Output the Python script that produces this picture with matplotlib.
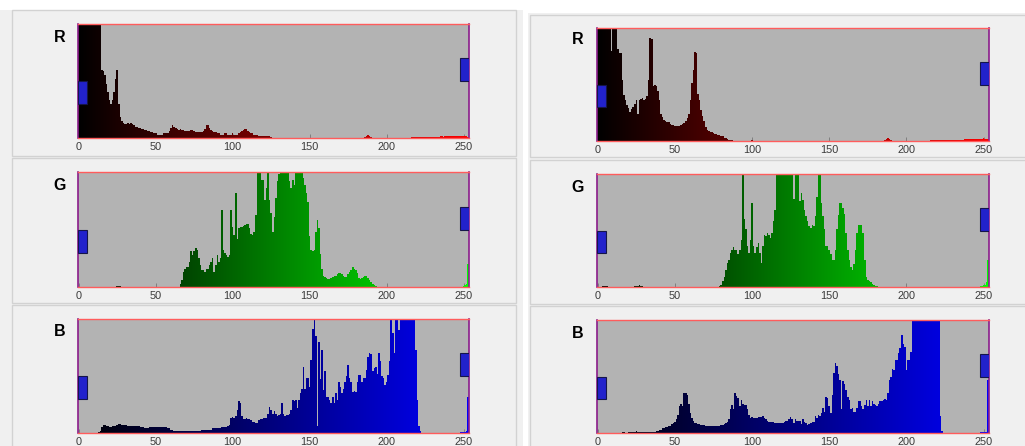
import matplotlib
matplotlib.use("Agg")
import matplotlib.pyplot as plt
import matplotlib.transforms as mtransforms
from matplotlib.patches import Rectangle
import numpy as np

# --- histogram heights, % of the axis height (values > 100 are off-scale) ---
left_r = [
    120, 120, 120, 120, 120, 120, 120, 120, 120, 120, 120, 120, 120, 120, 120, 60,
    59, 55, 47, 40, 33, 30, 33, 40, 52, 60, 30, 18, 15, 13, 12, 12,
    13, 12, 13, 12, 11, 10, 10, 9, 9, 8, 8, 7, 7, 6, 6, 5,
    5, 4, 4, 3, 3, 3, 3, 4, 4, 4, 4, 6, 9, 11, 10, 9,
    8, 7, 8, 7, 7, 6, 6, 6, 6, 7, 7, 6, 5, 5, 5, 5,
    5, 6, 8, 11, 11, 9, 7, 6, 5, 5, 4, 4, 3, 3, 3, 4,
    4, 3, 3, 3, 4, 3, 3, 3, 4, 5, 6, 7, 8, 8, 6, 5,
    4, 4, 3, 3, 3, 2, 2, 2, 2, 2, 2, 2, 2, 1, 0, 0,
    0, 0, 0, 0, 0, 0, 0, 0, 0, 0, 0, 0, 0, 0, 0, 0,
    0, 0, 0, 0, 0, 0, 0, 0, 0, 0, 0, 0, 0, 0, 0, 0,
    0, 0, 0, 0, 0, 0, 0, 0, 0, 0, 0, 0, 0, 0, 0, 0,
    0, 0, 0, 0, 0, 0, 0, 0, 0, 0, 1, 2, 3, 2, 1, 0,
    0, 0, 0, 0, 0, 0, 0, 0, 0, 0, 0, 0, 0, 0, 0, 0,
    0, 0, 0, 0, 0, 0, 0, 0, 1, 1, 1, 1, 1, 1, 1, 1,
    1, 1, 1, 1, 1, 1, 1, 1, 1, 1, 1, 2, 2, 1, 2, 2,
    2, 2, 2, 2, 2, 2, 2, 2, 2, 2, 2, 2, 2, 1, 1, 1,
]
left_g = [
    0, 0, 0, 0, 0, 0, 0, 0, 0, 0, 0, 0, 0, 0, 0, 0,
    0, 0, 0, 0, 0, 0, 0, 0, 0, 1, 1, 1, 0, 0, 0, 0,
    0, 0, 0, 0, 0, 0, 0, 0, 0, 0, 0, 0, 0, 0, 0, 0,
    0, 0, 0, 0, 0, 0, 0, 0, 0, 0, 0, 0, 0, 0, 0, 0,
    0, 0, 3, 6, 13, 16, 17, 17, 22, 31, 28, 31, 34, 32, 25, 19,
    15, 15, 13, 16, 16, 19, 22, 25, 13, 19, 28, 22, 25, 67, 32, 30,
    28, 26, 28, 67, 52, 45, 82, 42, 51, 52, 52, 53, 54, 55, 55, 51,
    46, 45, 48, 63, 120, 120, 100, 93, 93, 76, 86, 120, 76, 64, 48, 61,
    77, 92, 98, 120, 120, 120, 120, 120, 120, 92, 86, 93, 89, 120, 120, 120,
    120, 120, 95, 89, 82, 74, 44, 32, 31, 32, 48, 58, 51, 29, 16, 10,
    9, 8, 7, 7, 8, 9, 10, 10, 11, 12, 12, 11, 10, 9, 9, 11,
    13, 15, 17, 16, 15, 12, 8, 7, 8, 9, 10, 10, 8, 6, 4, 3,
    2, 1, 0, 0, 0, 0, 0, 0, 0, 0, 0, 0, 0, 0, 0, 0,
    0, 0, 0, 0, 0, 0, 0, 0, 0, 0, 0, 0, 0, 0, 0, 0,
    0, 0, 0, 0, 0, 0, 0, 0, 0, 0, 0, 0, 0, 0, 0, 0,
    0, 0, 0, 0, 0, 0, 0, 0, 0, 0, 1, 2, 3, 20, 20, 20,
]
left_b = [
    0, 0, 0, 0, 0, 0, 0, 0, 0, 0, 0, 0, 0, 1, 2, 5,
    7, 7, 6, 6, 5, 5, 6, 6, 6, 7, 8, 8, 7, 7, 7, 7,
    6, 6, 6, 6, 6, 6, 6, 6, 5, 5, 5, 4, 4, 4, 5, 5,
    5, 5, 5, 5, 5, 5, 5, 5, 5, 5, 4, 4, 3, 3, 2, 2,
    2, 2, 2, 2, 2, 2, 2, 2, 2, 2, 2, 2, 2, 2, 2, 2,
    3, 3, 3, 3, 3, 3, 3, 4, 4, 4, 4, 4, 4, 5, 5, 5,
    5, 6, 7, 13, 14, 13, 15, 20, 28, 26, 15, 12, 12, 13, 12, 12,
    11, 10, 10, 9, 9, 11, 12, 12, 13, 13, 13, 17, 23, 20, 17, 19,
    17, 15, 16, 17, 26, 17, 15, 16, 16, 17, 20, 29, 28, 29, 22, 29,
    35, 39, 58, 39, 48, 48, 40, 64, 91, 120, 85, 6, 80, 47, 73, 38,
    54, 32, 32, 29, 26, 32, 26, 35, 29, 45, 40, 35, 39, 45, 50, 60,
    48, 45, 36, 37, 36, 45, 51, 51, 45, 48, 48, 55, 67, 70, 69, 54,
    57, 58, 52, 70, 63, 50, 48, 42, 45, 51, 63, 120, 88, 70, 120, 120,
    90, 120, 120, 120, 120, 120, 120, 120, 120, 120, 120, 73, 29, 6, 2, 0,
    0, 0, 0, 0, 0, 0, 0, 0, 0, 0, 0, 0, 0, 0, 0, 0,
    0, 0, 0, 0, 0, 0, 0, 0, 1, 1, 1, 1, 2, 32, 32, 32,
]
right_r = [
    120, 120, 120, 120, 120, 120, 120, 120, 120, 80, 120, 120, 120, 81, 78, 78,
    54, 41, 36, 32, 29, 26, 28, 30, 33, 36, 24, 36, 37, 38, 36, 37,
    40, 54, 91, 90, 49, 50, 49, 44, 36, 24, 21, 19, 18, 17, 17, 15,
    14, 14, 13, 13, 13, 13, 14, 15, 16, 18, 20, 24, 36, 51, 63, 79,
    78, 42, 36, 27, 22, 18, 12, 10, 9, 8, 8, 7, 6, 6, 5, 5,
    4, 4, 3, 3, 2, 1, 1, 1, 0, 0, 0, 0, 0, 0, 0, 0,
    0, 0, 0, 0, 1, 0, 0, 0, 0, 0, 0, 0, 0, 0, 0, 0,
    0, 0, 0, 0, 0, 0, 0, 0, 0, 0, 0, 0, 0, 0, 0, 0,
    0, 0, 0, 0, 0, 0, 0, 0, 0, 0, 0, 0, 0, 0, 0, 0,
    0, 0, 0, 0, 0, 0, 0, 0, 0, 0, 0, 0, 0, 0, 0, 0,
    0, 0, 0, 0, 0, 0, 0, 0, 0, 0, 0, 0, 0, 0, 0, 0,
    0, 0, 0, 0, 0, 0, 0, 0, 0, 0, 1, 2, 3, 2, 1, 0,
    0, 0, 0, 0, 0, 0, 0, 0, 0, 0, 0, 0, 0, 0, 0, 0,
    0, 0, 0, 0, 0, 0, 0, 0, 1, 1, 1, 1, 1, 1, 1, 1,
    1, 1, 1, 1, 1, 1, 1, 1, 1, 1, 1, 1, 1, 1, 2, 2,
    2, 2, 2, 2, 2, 2, 2, 2, 2, 2, 3, 2, 2, 2, 2, 2,
]
right_g = [
    0, 0, 0, 1, 1, 1, 1, 0, 0, 0, 0, 0, 0, 0, 0, 0,
    0, 0, 0, 0, 0, 0, 0, 0, 1, 1, 1, 2, 1, 1, 0, 0,
    0, 0, 0, 0, 0, 0, 0, 0, 0, 0, 0, 0, 0, 0, 0, 0,
    0, 0, 0, 0, 0, 0, 0, 0, 0, 0, 0, 0, 0, 0, 0, 0,
    0, 0, 0, 0, 0, 0, 0, 0, 0, 0, 0, 0, 0, 0, 0, 1,
    2, 5, 9, 15, 21, 24, 30, 33, 35, 33, 33, 29, 33, 42, 100, 60,
    51, 36, 30, 42, 74, 36, 30, 35, 39, 30, 21, 36, 46, 45, 48, 46,
    43, 48, 58, 68, 120, 120, 120, 120, 120, 120, 120, 120, 120, 120, 120, 78,
    120, 120, 120, 76, 83, 77, 68, 63, 58, 54, 52, 55, 54, 63, 80, 100,
    99, 74, 63, 51, 36, 36, 33, 29, 24, 24, 33, 51, 64, 74, 74, 70,
    65, 48, 33, 24, 18, 15, 20, 33, 48, 55, 55, 55, 48, 24, 9, 6,
    5, 4, 3, 2, 1, 1, 0, 0, 0, 0, 0, 0, 0, 0, 0, 0,
    0, 0, 0, 0, 0, 0, 0, 0, 0, 0, 0, 0, 0, 0, 0, 0,
    0, 0, 0, 0, 0, 0, 0, 0, 0, 0, 0, 0, 0, 0, 0, 0,
    0, 0, 0, 0, 0, 0, 0, 0, 0, 0, 0, 0, 0, 0, 0, 0,
    0, 0, 0, 0, 0, 0, 0, 0, 1, 1, 2, 2, 4, 24, 24, 24,
]
right_b = [
    0, 0, 0, 0, 0, 0, 0, 0, 0, 0, 0, 0, 0, 0, 0, 0,
    1, 1, 0, 0, 1, 1, 1, 1, 1, 2, 1, 1, 1, 1, 1, 1,
    1, 1, 1, 1, 1, 1, 2, 2, 3, 3, 4, 4, 5, 5, 6, 6,
    8, 9, 10, 12, 16, 24, 26, 24, 35, 35, 34, 26, 18, 13, 11, 9,
    9, 8, 8, 7, 7, 7, 6, 6, 6, 6, 6, 6, 6, 6, 6, 6,
    7, 7, 8, 9, 10, 12, 21, 25, 21, 35, 33, 31, 24, 29, 26, 25,
    25, 21, 16, 13, 14, 13, 13, 13, 14, 14, 14, 15, 13, 12, 11, 10,
    10, 10, 10, 9, 9, 9, 9, 9, 9, 10, 11, 11, 12, 14, 12, 9,
    12, 11, 11, 11, 8, 12, 10, 9, 7, 8, 9, 10, 10, 15, 13, 16,
    15, 18, 22, 19, 32, 31, 24, 18, 34, 53, 62, 59, 52, 47, 21, 46,
    43, 38, 32, 29, 21, 22, 19, 19, 22, 28, 28, 24, 21, 25, 29, 24,
    29, 24, 28, 26, 25, 24, 26, 28, 28, 29, 30, 29, 35, 47, 50, 57,
    56, 65, 65, 71, 75, 87, 79, 76, 56, 65, 65, 72, 120, 120, 120, 120,
    120, 120, 120, 120, 120, 120, 120, 120, 120, 120, 120, 120, 120, 120, 15, 2,
    0, 0, 0, 0, 0, 0, 0, 0, 0, 0, 0, 0, 0, 0, 0, 0,
    0, 0, 0, 0, 0, 0, 0, 0, 1, 1, 1, 1, 1, 47, 47, 47,
]

channel_names = ["R", "G", "B"]
tick_values = [0, 50, 100, 150, 200, 250]

W, H = 1025, 446


def frac(x0, y0, x1, y1):
    # pixel box (top-left origin) -> figure fraction [l, b, w, h]
    return [x0 / W, 1 - y1 / H, (x1 - x0) / W, (y1 - y0) / H]


def add_rect(fig, x0, y0, x1, y1, face, edge=None, lw=0):
    l, b, w, h = frac(x0, y0, x1, y1)
    fig.patches.append(Rectangle((l, b), w, h, transform=fig.transFigure,
                                 facecolor=face, edgecolor=edge or face,
                                 linewidth=lw, zorder=-10))


fig = plt.figure(figsize=(W / 100, H / 100), dpi=100)
fig.patch.set_facecolor("white")

# grey window backgrounds and the three panels of each side
add_rect(fig, 0, 10, 523, 446, "#f0f0f0")
add_rect(fig, 528, 13, 1025, 446, "#f0f0f0")
left_panels = [(12, 10, 516, 156), (12, 158, 516, 303), (12, 305, 516, 452)]
right_panels = [(530, 15, 1030, 157), (530, 160, 1030, 304), (530, 306, 1030, 452)]
for box in left_panels + right_panels:
    add_rect(fig, *box, face="#f0f0f0", edge="#d2d2d2", lw=1.0)

# axes boxes in pixels
left_axes = [(78, 24, 469, 138), (78, 172, 469, 287), (78, 319, 469, 433)]
right_axes = [(597, 28, 989, 141), (597, 174, 989, 287), (597, 320, 989, 433)]

bins = np.arange(256)
shade = bins / 255.0


def draw_hist(box, values, ch):
    ax = fig.add_axes(frac(*box))
    ax.set_facecolor("#b3b3b3")
    colors = np.zeros((256, 3))
    colors[:, ch] = shade
    ax.bar(bins, values, width=1.0, color=colors, linewidth=0, zorder=2)
    ax.set_xlim(-0.5, 253.5)
    ax.set_ylim(0, 100)
    ax.set_yticks([])
    ax.set_xticks(tick_values)
    ax.tick_params(axis="x", direction="in", length=3, width=0.6,
                   color="#777777", labelsize=7.8, labelcolor="#3a3a3a", pad=3)
    for lab in ax.get_xticklabels():
        lab.set_family("Liberation Sans")
    for side in ("top", "bottom"):
        ax.spines[side].set_color("#ff5c5c")
        ax.spines[side].set_linewidth(1.0)
    for side in ("left", "right"):
        ax.spines[side].set_color("#8b1c8b")
        ax.spines[side].set_linewidth(1.2)
    # slider handles
    trans = mtransforms.blended_transform_factory(ax.transData, ax.transAxes)
    ax.add_patch(Rectangle((-0.5, 0.30), 6.0, 0.20, transform=trans,
                           facecolor="#2222cc", edgecolor="#15154a",
                           linewidth=0.8, zorder=3))
    ax.add_patch(Rectangle((247.5, 0.50), 6.0, 0.20, transform=trans,
                           facecolor="#2222cc", edgecolor="#15154a",
                           linewidth=0.8, zorder=3))
    return ax


for i, vals in enumerate([left_r, left_g, left_b]):
    draw_hist(left_axes[i], vals, i)
for i, vals in enumerate([right_r, right_g, right_b]):
    draw_hist(right_axes[i], vals, i)

# channel letters
label_pos_left = [(60, 37), (60, 186), (60, 332)]
label_pos_right = [(578, 40), (578, 188), (578, 333)]
for name, (x, y) in zip(channel_names, label_pos_left):
    fig.text(x / W, 1 - y / H, name, ha="center", va="center",
             fontsize=11.5, fontweight="bold", family="Liberation Sans")
for name, (x, y) in zip(channel_names, label_pos_right):
    fig.text(x / W, 1 - y / H, name, ha="center", va="center",
             fontsize=11.5, fontweight="bold", family="Liberation Sans")

fig.savefig("out.png", dpi=100)
